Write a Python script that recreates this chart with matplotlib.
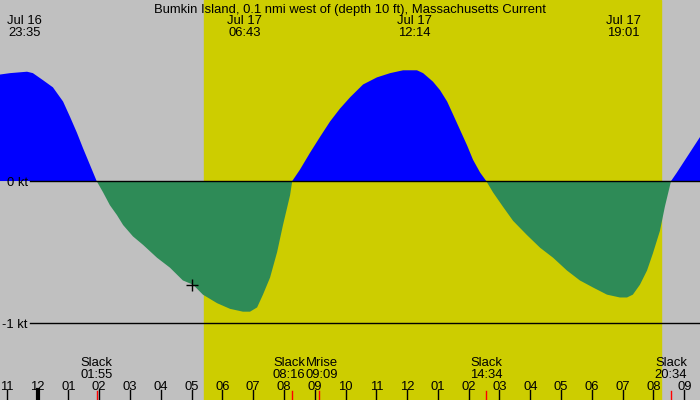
import matplotlib
matplotlib.use('Agg')
import matplotlib.pyplot as plt
import matplotlib.transforms as mtransforms
import numpy as np

# Current speed (kt), time in hours from Jul 17 00:00
hours = [-1.22, -0.89, -0.34, -0.15, 0.18, 0.50, 0.83, 1.06, 1.28, 1.48, 1.71, 1.92,
         2.13, 2.35, 2.58, 2.78, 3.10, 3.43, 3.88, 4.30, 4.72, 5.05, 5.37, 5.83,
         6.25, 6.67, 6.90, 7.13, 7.32, 7.55, 7.78, 7.97, 8.20, 8.27,
         8.52, 8.85, 9.17, 9.50, 9.82, 10.15, 10.57, 11.02, 11.45, 11.87, 12.32,
         12.52, 12.84, 13.07, 13.30, 13.49, 13.72, 13.95, 14.14, 14.37, 14.57,
         14.79, 15.11, 15.44, 15.89, 16.32, 16.74, 17.19, 17.61, 18.04, 18.49,
         18.91, 19.14, 19.33, 19.56, 19.79, 19.98, 20.21, 20.37, 20.57,
         20.76, 21.09, 21.51]
speed = [0.75, 0.76, 0.77, 0.76, 0.71, 0.66, 0.56, 0.45, 0.34, 0.23, 0.11, 0.0,
         -0.08, -0.17, -0.24, -0.31, -0.39, -0.45, -0.54, -0.61, -0.70, -0.73, -0.80, -0.86,
         -0.90, -0.92, -0.92, -0.89, -0.80, -0.68, -0.50, -0.31, -0.10, 0.0,
         0.08, 0.20, 0.31, 0.42, 0.51, 0.59, 0.68, 0.73, 0.76, 0.78, 0.78,
         0.76, 0.70, 0.64, 0.56, 0.47, 0.36, 0.25, 0.15, 0.06, 0.0,
         -0.08, -0.18, -0.28, -0.38, -0.47, -0.54, -0.63, -0.70, -0.75, -0.80,
         -0.82, -0.82, -0.80, -0.73, -0.63, -0.51, -0.35, -0.18, 0.0,
         0.06, 0.17, 0.31]

# Max flood / max ebb events (top labels)
max_times = [-0.42, 6.72, 12.23, 19.02]
max_labels = ['Jul 16\n23:35', 'Jul 17\n06:43', 'Jul 17\n12:14', 'Jul 17\n19:01']

# Slack water and moonrise events (bottom labels)
event_times = [1.92, 8.27, 9.15, 14.57, 20.57]
event_label_pos = [1.92, 8.17, 9.24, 14.57, 20.57]
event_labels = ['Slack\n01:55', 'Slack\n08:16', 'Mrise\n09:09', 'Slack\n14:34', 'Slack\n20:34']

# Hour ticks
tick_hours = list(range(-1, 22))
tick_labels = ['11', '12', '01', '02', '03', '04', '05', '06', '07', '08', '09', '10',
               '11', '12', '01', '02', '03', '04', '05', '06', '07', '08', '09']

sunrise, sunset = 5.41, 20.24
now_time, now_speed = 5.02, -0.73
title = 'Bumkin Island, 0.1 nmi west of (depth 10 ft), Massachusetts Current'

plt.rcParams['font.family'] = ['Liberation Sans', 'DejaVu Sans']
fs = 9.4

fig = plt.figure(figsize=(7, 4), dpi=100)
ax = fig.add_axes([0, 0, 1, 1])
ax.set_facecolor('#c0c0c0')
ax.set_xlim(-1.218, 21.51)
ax.set_ylim(-1.542, 1.275)
ax.axis('off')
fig.patch.set_facecolor('#c0c0c0')

ax.axvspan(sunrise, sunset, color='#cdcd00', zorder=0)

t = np.array(hours)
v = np.array(speed)
ax.fill_between(t, 0, v, where=v >= 0, interpolate=True, color='#0000ff', lw=0, zorder=2)
ax.fill_between(t, 0, v, where=v <= 0, interpolate=True, color='#2e8b57', lw=0, zorder=2)

# reference lines
ax.plot([-0.23, 21.51], [0, 0], color='black', lw=1, zorder=3)
ax.plot([-0.23, 21.51], [-1, -1], color='black', lw=1, zorder=3)
ax.text(-1.0, -0.014, '0 kt', fontsize=fs, ha='left', va='center', zorder=4)
ax.text(-1.16, -1.014, '-1 kt', fontsize=fs, ha='left', va='center', zorder=4)

ax.plot(now_time, now_speed, marker='+', color='black', ms=9, mew=1, zorder=5)

trans = mtransforms.blended_transform_factory(ax.transData, ax.transAxes)

ax.text(0.5, 1 - 9.5 / 400, title, transform=ax.transAxes, fontsize=fs,
        ha='center', va='center')
for tm, lab in zip(max_times, max_labels):
    top, bottom = lab.split('\n')
    ax.text(tm, 1 - 21.5 / 400, top, transform=trans, fontsize=fs, ha='center', va='center')
    ax.text(tm, 1 - 33.5 / 400, bottom, transform=trans, fontsize=fs, ha='center', va='center')

for tm, pos, lab in zip(event_times, event_label_pos, event_labels):
    top, bottom = lab.split('\n')
    ax.text(pos, 1 - 363.5 / 400, top, transform=trans, fontsize=fs, ha='center', va='center')
    ax.text(pos, 1 - 375.5 / 400, bottom, transform=trans, fontsize=fs, ha='center', va='center')
    ax.plot([tm, tm], [0, 0.022], transform=trans, color='red', lw=1, zorder=4)

for h, lab in zip(tick_hours, tick_labels):
    ax.text(h, 1 - 386.5 / 400, lab, transform=trans, fontsize=fs, ha='center', va='center')
    ax.plot([h, h], [0, 0.025], transform=trans, color='black',
            lw=3 if h == 0 else 1, zorder=4)

fig.savefig('out.png', dpi=100, facecolor=fig.get_facecolor())
